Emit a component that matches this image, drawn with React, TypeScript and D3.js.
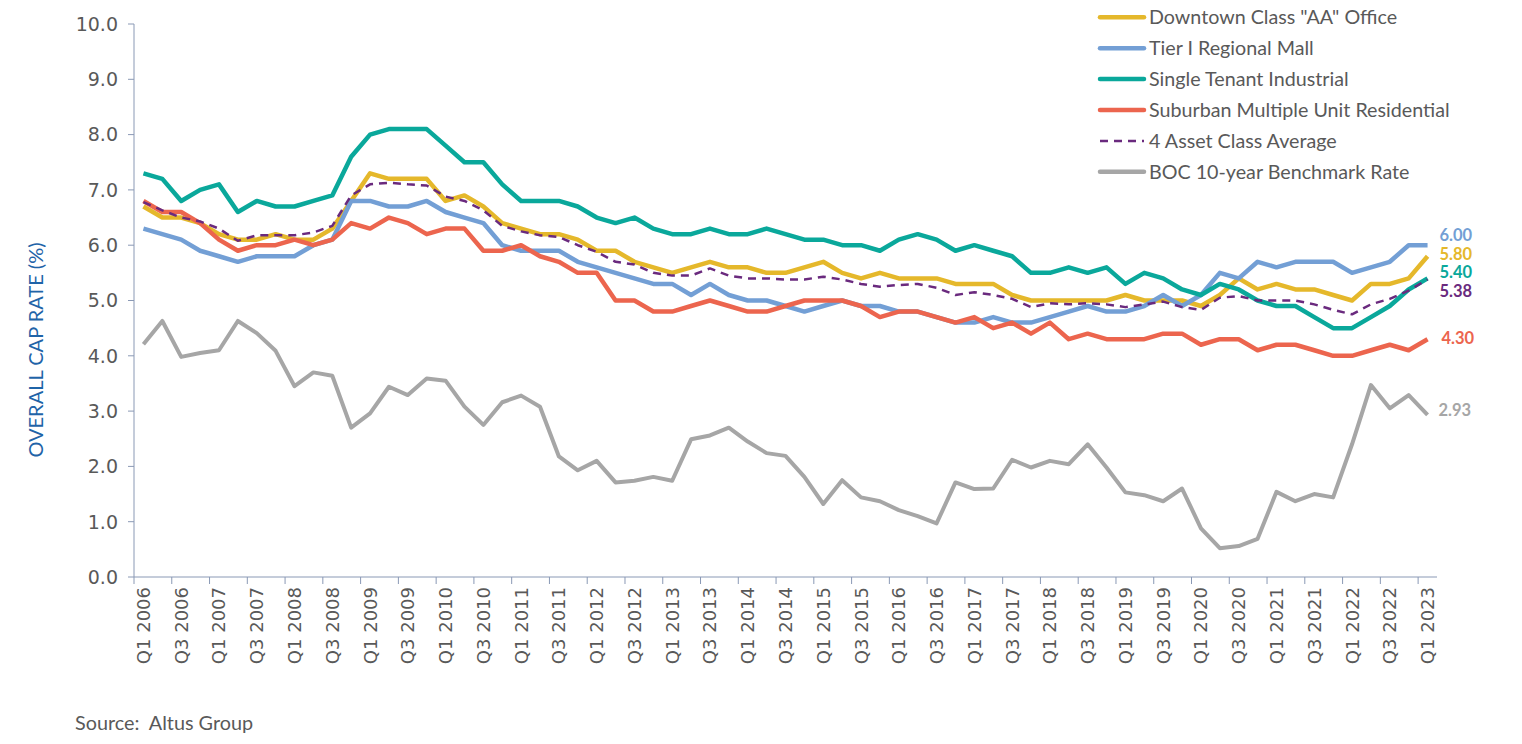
import React from "react";
import * as d3 from "d3";

// categories: Q1 2006 .. Q1 2023
const quarters: string[] = [];
for (let yr = 2006; yr <= 2023; yr++) {
  for (let q = 1; q <= 4; q++) {
    if (yr === 2023 && q > 1) break;
    quarters.push(`Q${q} ${yr}`);
  }
}

const office = [
  6.7, 6.5, 6.5, 6.4, 6.2, 6.1, 6.1, 6.2, 6.1, 6.1, 6.3, 6.8, 7.3, 7.2, 7.2, 7.2,
  6.8, 6.9, 6.7, 6.4, 6.3, 6.2, 6.2, 6.1, 5.9, 5.9, 5.7, 5.6, 5.5, 5.6, 5.7, 5.6,
  5.6, 5.5, 5.5, 5.6, 5.7, 5.5, 5.4, 5.5, 5.4, 5.4, 5.4, 5.3, 5.3, 5.3, 5.1, 5.0,
  5.0, 5.0, 5.0, 5.0, 5.1, 5.0, 5.0, 5.0, 4.9, 5.1, 5.4, 5.2, 5.3, 5.2, 5.2, 5.1,
  5.0, 5.3, 5.3, 5.4, 5.8,
];
const mall = [
  6.3, 6.2, 6.1, 5.9, 5.8, 5.7, 5.8, 5.8, 5.8, 6.0, 6.1, 6.8, 6.8, 6.7, 6.7, 6.8,
  6.6, 6.5, 6.4, 6.0, 5.9, 5.9, 5.9, 5.7, 5.6, 5.5, 5.4, 5.3, 5.3, 5.1, 5.3, 5.1,
  5.0, 5.0, 4.9, 4.8, 4.9, 5.0, 4.9, 4.9, 4.8, 4.8, 4.7, 4.6, 4.6, 4.7, 4.6, 4.6,
  4.7, 4.8, 4.9, 4.8, 4.8, 4.9, 5.1, 4.9, 5.1, 5.5, 5.4, 5.7, 5.6, 5.7, 5.7, 5.7,
  5.5, 5.6, 5.7, 6.0, 6.0,
];
const industrial = [
  7.3, 7.2, 6.8, 7.0, 7.1, 6.6, 6.8, 6.7, 6.7, 6.8, 6.9, 7.6, 8.0, 8.1, 8.1, 8.1,
  7.8, 7.5, 7.5, 7.1, 6.8, 6.8, 6.8, 6.7, 6.5, 6.4, 6.5, 6.3, 6.2, 6.2, 6.3, 6.2,
  6.2, 6.3, 6.2, 6.1, 6.1, 6.0, 6.0, 5.9, 6.1, 6.2, 6.1, 5.9, 6.0, 5.9, 5.8, 5.5,
  5.5, 5.6, 5.5, 5.6, 5.3, 5.5, 5.4, 5.2, 5.1, 5.3, 5.2, 5.0, 4.9, 4.9, 4.7, 4.5,
  4.5, 4.7, 4.9, 5.2, 5.4,
];
const residential = [
  6.8, 6.6, 6.6, 6.4, 6.1, 5.9, 6.0, 6.0, 6.1, 6.0, 6.1, 6.4, 6.3, 6.5, 6.4, 6.2,
  6.3, 6.3, 5.9, 5.9, 6.0, 5.8, 5.7, 5.5, 5.5, 5.0, 5.0, 4.8, 4.8, 4.9, 5.0, 4.9,
  4.8, 4.8, 4.9, 5.0, 5.0, 5.0, 4.9, 4.7, 4.8, 4.8, 4.7, 4.6, 4.7, 4.5, 4.6, 4.4,
  4.6, 4.3, 4.4, 4.3, 4.3, 4.3, 4.4, 4.4, 4.2, 4.3, 4.3, 4.1, 4.2, 4.2, 4.1, 4.0,
  4.0, 4.1, 4.2, 4.1, 4.3,
];
const average = [
  6.78, 6.63, 6.5, 6.43, 6.3, 6.08, 6.18, 6.18, 6.18, 6.23, 6.35, 6.9, 7.1, 7.13, 7.1, 7.08,
  6.88, 6.8, 6.63, 6.35, 6.25, 6.18, 6.15, 6.0, 5.88, 5.7, 5.65, 5.5, 5.45, 5.45, 5.58, 5.45,
  5.4, 5.4, 5.38, 5.38, 5.43, 5.38, 5.3, 5.25, 5.28, 5.3, 5.23, 5.1, 5.15, 5.1, 5.03, 4.88,
  4.95, 4.93, 4.95, 4.93, 4.88, 4.93, 4.98, 4.88, 4.83, 5.05, 5.08, 5.0, 5.0, 5.0, 4.93, 4.83,
  4.75, 4.93, 5.03, 5.18, 5.38,
];
const boc = [
  4.21, 4.63, 3.98, 4.05, 4.1, 4.63, 4.41, 4.09, 3.45, 3.7, 3.64, 2.7, 2.96, 3.44, 3.29, 3.59,
  3.55, 3.08, 2.75, 3.16, 3.28, 3.08, 2.18, 1.93, 2.1, 1.71, 1.74, 1.81, 1.74, 2.49, 2.56, 2.7,
  2.45, 2.24, 2.19, 1.81, 1.32, 1.75, 1.44, 1.37, 1.21, 1.1, 0.97, 1.71, 1.59, 1.6, 2.12, 1.98,
  2.1, 2.04, 2.4, 1.98, 1.53, 1.48, 1.37, 1.6, 0.88, 0.52, 0.56, 0.69, 1.54, 1.37, 1.5, 1.44,
  2.4, 3.47, 3.05, 3.29, 2.93,
];

const seriesNames = [
  'Downtown Class "AA" Office',
  "Tier I Regional Mall",
  "Single Tenant Industrial",
  "Suburban Multiple Unit Residential",
  "4 Asset Class Average",
  "BOC 10-year Benchmark Rate",
];
const endLabels = ["5.80", "6.00", "5.40", "4.30", "5.38", "2.93"];
const yTicks = [0, 1, 2, 3, 4, 5, 6, 7, 8, 9, 10];

const W = 1522;
const H = 744;
const plot = { left: 134, right: 1437, top: 24, bottom: 577 };

const series = [
  { values: office, color: "#e5b82b", width: 4.5, dash: "", labelDy: -2, labelDx: 12 },
  { values: mall, color: "#739fd5", width: 4.5, dash: "", labelDy: -10, labelDx: 12 },
  { values: industrial, color: "#0aa89b", width: 4.5, dash: "", labelDy: -6, labelDx: 12 },
  { values: residential, color: "#ec654e", width: 4.5, dash: "", labelDy: -1, labelDx: 14 },
  { values: average, color: "#6a2a7e", width: 2.5, dash: "8,6", labelDy: 12, labelDx: 12 },
  { values: boc, color: "#a6a6a6", width: 4, dash: "", labelDy: -5, labelDx: 11 },
];

const axisColor = "#8a99b5";
const textColor = "#595959";

export default function App() {
  const x = d3.scaleBand<string>().domain(quarters).range([plot.left, plot.right]);
  const cx = (i: number) => (x(quarters[i]) as number) + x.bandwidth() / 2;
  const y = d3.scaleLinear().domain([0, 10]).range([plot.bottom, plot.top]);
  const line = d3
    .line<number>()
    .x((_, i) => cx(i))
    .y((d) => y(d));

  const last = quarters.length - 1;

  return (
    <svg
      width={W}
      height={H}
      style={{ position: "absolute", left: 0, top: 0, background: "#fff" }}
    >
      {/* y axis */}
      <line x1={plot.left} x2={plot.left} y1={plot.top} y2={plot.bottom} stroke={axisColor} strokeWidth={1} />
      {yTicks.map((t) => (
        <g key={t}>
          <line x1={plot.left - 6} x2={plot.left} y1={y(t)} y2={y(t)} stroke={axisColor} />
          <text
            x={118}
            y={y(t)}
            dy="0.36em"
            textAnchor="end"
            fontFamily="DejaVu Sans"
            fontSize={19}
            fill={textColor}
          >
            {t.toFixed(1)}
          </text>
        </g>
      ))}
      <text
        transform={`translate(36,350) rotate(-90)`}
        dy="0.36em"
        textAnchor="middle"
        fontFamily="Lato"
        fontSize={20}
        fill="#1f64a8"
      >
        OVERALL CAP RATE (%)
      </text>

      {/* x axis */}
      <line x1={plot.left} x2={plot.right} y1={plot.bottom} y2={plot.bottom} stroke={axisColor} />
      {quarters.map((q, i) =>
        i % 2 === 0 ? (
          <g key={q}>
            <line
              x1={x(q)}
              x2={x(q)}
              y1={plot.bottom}
              y2={plot.bottom + 7}
              stroke={axisColor}
            />
            <text
              transform={`translate(${cx(i)},587) rotate(-90)`}
              textAnchor="end"
              dy="0.36em"
              fontFamily="DejaVu Sans"
              fontSize={18}
              fill={textColor}
            >
              {q}
            </text>
          </g>
        ) : null
      )}

      {/* lines */}
      {series.map((s, k) => (
        <path
          key={k}
          d={line(s.values) as string}
          fill="none"
          stroke={s.color}
          strokeWidth={s.width}
          strokeDasharray={s.dash || undefined}
          strokeLinejoin="round"
        />
      ))}

      {/* end labels */}
      {series.map((s, k) => (
        <text
          key={k}
          x={cx(last) + s.labelDx}
          y={y(s.values[last]) + s.labelDy}
          dy="0.36em"
          fontFamily="Lato"
          fontWeight="bold"
          fontSize={16.5}
          fill={s.color}
        >
          {endLabels[k]}
        </text>
      ))}

      {/* legend */}
      {series.map((s, k) => (
        <g key={k} transform={`translate(1100,${17.3 + k * 30.9})`}>
          <line
            x1={0}
            x2={44}
            y1={0}
            y2={0}
            stroke={s.color}
            strokeWidth={s.dash ? 2.5 : 4.5}
            strokeDasharray={s.dash || undefined}
            strokeLinecap={s.dash ? "butt" : "round"}
          />
          <text x={49} y={0} dy="0.36em" fontFamily="Lato" fontSize={19.7} fill={textColor}>
            {seriesNames[k]}
          </text>
        </g>
      ))}

      <text x={75} y={730} fontFamily="Lato" fontSize={19.8} fill={textColor} style={{ whiteSpace: "pre" }}>
        {"Source:  Altus Group"}
      </text>
    </svg>
  );
}
